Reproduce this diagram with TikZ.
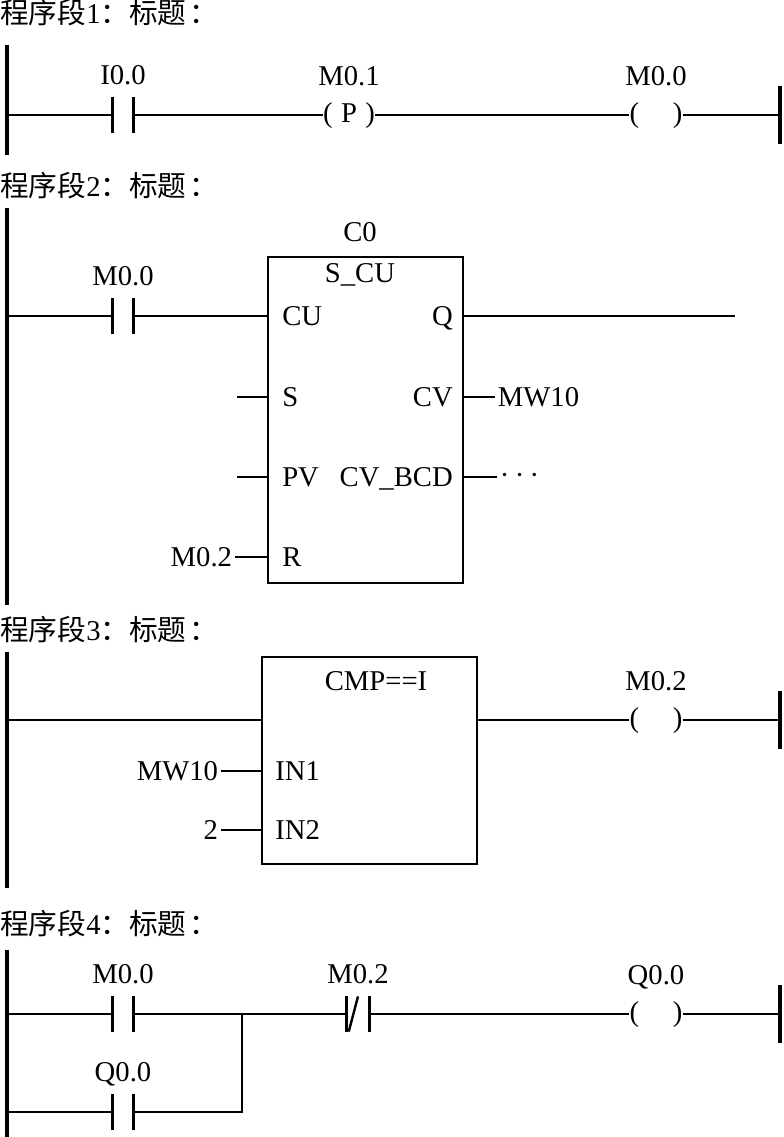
\documentclass[tikz,border=0pt]{standalone}
\usepackage{fontspec}
\setmainfont{Liberation Serif}
\newfontfamily\cjk{Noto Sans CJK SC}
\usepackage{tikz}
\usetikzlibrary{positioning}
\tikzstyle{rail} = [line width=2.4pt]
\tikzstyle{wire} = [line width=1.5pt]
\tikzstyle{plate} = [line width=2.4pt]
\tikzstyle{contact} = [inner sep=0pt, minimum width=15pt, minimum height=26pt]
\tikzstyle{coil} = [inner sep=0pt, text height=15pt, text depth=4.3pt]
\tikzstyle{fblock} = [draw, line width=2pt, inner sep=0pt]
\tikzstyle{port} = [inner sep=0pt, text height=14.5pt, text depth=0pt]
\tikzstyle{tag} = [inner sep=0pt, text depth=0pt]
\tikzstyle{title} = [anchor=base west, inner sep=0pt]

\begin{document}
\begin{tikzpicture}[x=0.75pt, y=-0.75pt, node distance=9.4pt,
    font=\fontsize{21.5}{25}\selectfont]
    \useasboundingbox (0,0) rectangle (783,1137);

    % network 1
    \node [title] (title1) at (0,24) {{\cjk 程序段}1{\cjk ：标题}\hspace{2pt}{\cjk ：}};
    \coordinate (L1a) at (7,45);
    \coordinate (L1b) at (7,155);
    \coordinate (R1a) at (780,86);
    \coordinate (R1b) at (780,144);
    \node [contact] (c1) at (123,115) {};
    \node [coil] (k1) at (349,115) {(\hspace{6.3pt}P\hspace{6.3pt})};
    \node [coil] (k2) at (656,115) {(\hspace{25.3pt})};
    \node [tag, above=of c1] (t_c1) {I0.0};
    \node [tag, above=12pt of k1] (t_k1) {M0.1};
    \node [tag, above=12pt of k2] (t_k2) {M0.0};
    \draw [wire] (L1a |- c1) -- (c1.west);
    \draw [wire] (c1.east) -- (k1.west);
    \draw [wire] (k1.east) -- (k2.west);
    \draw [wire] (k2.east) -- (R1a |- k2);
    \draw [rail] (L1a) -- (L1b);
    \draw [rail] (R1a) -- (R1b);

    % network 2
    \node [title] (title2) at (0,197) {{\cjk 程序段}2{\cjk ：标题}\hspace{2pt}{\cjk ：}};
    \coordinate (L2a) at (7,208);
    \coordinate (L2b) at (7,605);
    \node [contact] (c2) at (123,316) {};
    \node [tag, above=of c2] (t_c2) {M0.0};
    \node [fblock, minimum width=146.25pt, minimum height=244.5pt] (ctu) at (365.5,420) {};
    \node [tag, anchor=base] (n_ctu) at (360,242) {C0};
    \node [tag, anchor=base] (f_ctu) at (360,282) {S\_CU};
    \node [port, anchor=west] (p_cu) at (282,316) {CU};
    \node [port, anchor=west] (p_s) at (282,397) {S};
    \node [port, anchor=west] (p_pv) at (282,477) {PV};
    \node [port, anchor=west] (p_r) at (282,557) {R};
    \node [port, anchor=east] (p_q) at (453,316) {Q};
    \node [port, anchor=east] (p_cv) at (453,397) {CV};
    \node [port, anchor=east] (p_bcd) at (453,477) {CV\_BCD};
    \node [port, anchor=east, inner sep=2pt] (v_r) at (235,557) {M0.2};
    \node [port, anchor=west, inner sep=2pt] (v_cv) at (495,397) {MW10};
    \node [anchor=west, inner sep=2pt, text height=10.5pt, text depth=0pt] (v_bcd) at (497,477)
        {·\hspace{4pt}·\hspace{4pt}·};
    \coordinate (s_in) at (237,397);
    \coordinate (pv_in) at (237,477);
    \coordinate (q_out) at (735,316);
    \draw [wire] (L2a |- c2) -- (c2.west);
    \draw [wire] (c2.east) -- (p_cu -| ctu.west);
    \draw [wire] (s_in) -- (s_in -| ctu.west);
    \draw [wire] (pv_in) -- (pv_in -| ctu.west);
    \draw [wire] (v_r.east) -- (v_r -| ctu.west);
    \draw [wire] (p_q -| ctu.east) -- (q_out);
    \draw [wire] (p_cv -| ctu.east) -- (v_cv.west);
    \draw [wire] (p_bcd -| ctu.east) -- (v_bcd.west);
    \draw [rail] (L2a) -- (L2b);

    % network 3
    \node [title] (title3) at (0,640) {{\cjk 程序段}3{\cjk ：标题}\hspace{2pt}{\cjk ：}};
    \coordinate (L3a) at (7,652);
    \coordinate (L3b) at (7,888);
    \coordinate (R3a) at (780,691);
    \coordinate (R3b) at (780,749);
    \node [fblock, minimum width=161.25pt, minimum height=155.25pt] (ccmp) at (369.5,760.5) {};
    \node [tag, anchor=base] (f_cmp) at (376,690) {CMP==I};
    \node [port, anchor=west] (p_in1) at (275,771) {IN1};
    \node [port, anchor=west] (p_in2) at (275,830) {IN2};
    \node [port, anchor=east, inner sep=2pt] (v_in1) at (221,771) {MW10};
    \node [port, anchor=east, inner sep=2pt] (v_in2) at (221,830) {2};
    \node [coil] (k3) at (656,720) {(\hspace{25.3pt})};
    \node [tag, above=12pt of k3] (t_k3) {M0.2};
    \draw [wire] (L3a |- k3) -- (k3 -| ccmp.west);
    \draw [wire] (k3 -| ccmp.east) -- (k3.west);
    \draw [wire] (k3.east) -- (R3a |- k3);
    \draw [wire] (v_in1.east) -- (v_in1 -| ccmp.west);
    \draw [wire] (v_in2.east) -- (v_in2 -| ccmp.west);
    \draw [rail] (L3a) -- (L3b);
    \draw [rail] (R3a) -- (R3b);

    % network 4
    \node [title] (title4) at (0,934) {{\cjk 程序段}4{\cjk ：标题}\hspace{2pt}{\cjk ：}};
    \coordinate (L4a) at (7,950);
    \coordinate (L4b) at (7,1137);
    \coordinate (R4a) at (780,985);
    \coordinate (R4b) at (780,1043);
    \coordinate (j4) at (242,1014);
    \node [contact] (c4a) at (123,1014) {};
    \node [contact] (c4b) at (123,1112) {};
    \node [contact, minimum width=16.5pt] (c4n) at (358,1014) {};
    \node [coil] (k4) at (656,1014) {(\hspace{25.3pt})};
    \node [tag, above=of c4a] (t_c4a) {M0.0};
    \node [tag, above=of c4b] (t_c4b) {Q0.0};
    \node [tag, above=of c4n] (t_c4n) {M0.2};
    \node [tag, above=12pt of k4] (t_k4) {Q0.0};
    \draw [wire] (L4a |- c4a) -- (c4a.west);
    \draw [wire] (c4a.east) -- (c4n.west);
    \draw [wire] (L4a |- c4b) -- (c4b.west);
    \draw [wire] (c4b.east) -| (j4);
    \draw [wire] (c4n.east) -- (k4.west);
    \draw [wire] (k4.east) -- (R4a |- k4);
    \draw [wire, line width=1.8pt] ([xshift=1.5pt]c4n.south west) -- (c4n.north);
    \draw [rail] (L4a) -- (L4b);
    \draw [rail] (R4a) -- (R4b);

    % contact plates
    \foreach \c in {c1,c2,c4a,c4b,c4n}
        \draw [plate] (\c.north west) -- (\c.south west) (\c.north east) -- (\c.south east);
\end{tikzpicture}
\end{document}
